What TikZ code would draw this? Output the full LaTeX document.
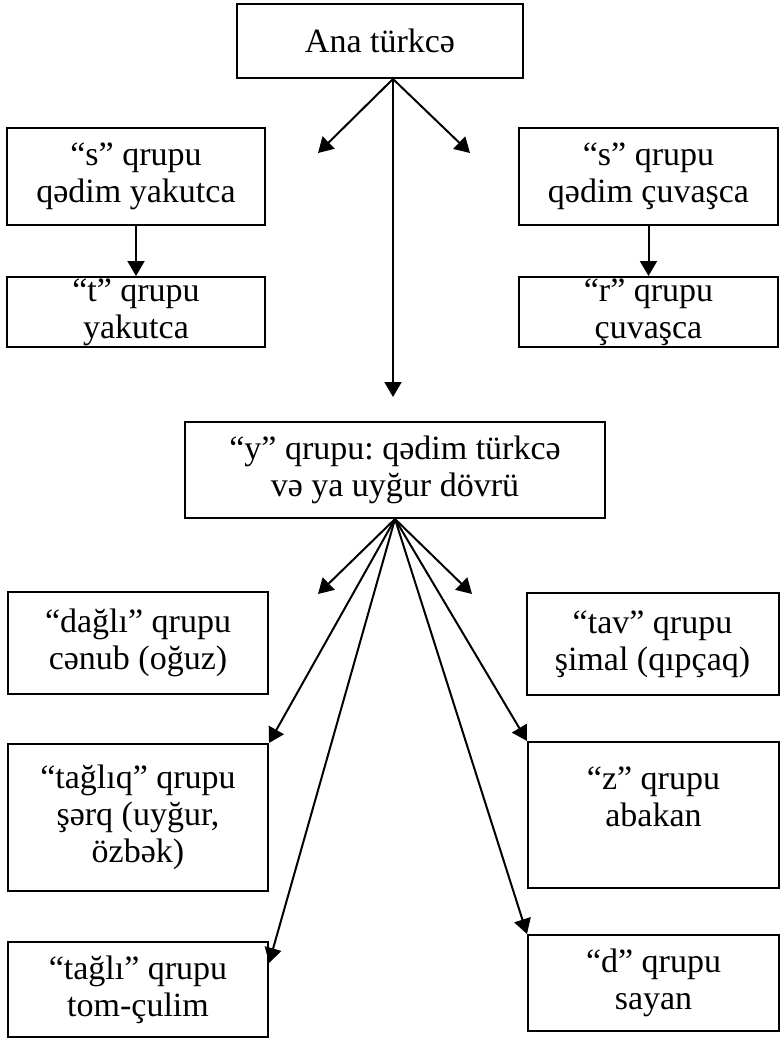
\documentclass[tikz,border=0pt]{standalone}
\usepackage{fontspec}
\setmainfont{Liberation Serif}
\frenchspacing
\usetikzlibrary{positioning,arrows.meta,calc}
\tikzset{
  grp/.style={ % image of one group box
    draw, rectangle, line width=1pt,
    align=center, inner sep=0pt, text=black,
    font=\fontsize{17}{18.5}\selectfont
  },
  arr/.style={ % arrow from a fork point
    line width=1pt, -{Triangle[length=7.5pt,width=8.5pt]}
  }
}
\begin{document}
\begin{tikzpicture}[x=0.5pt, y=-0.5pt]
    \useasboundingbox (0,0) rectangle (783,1040);

      \node[grp, minimum width=143pt, minimum height=37pt] (ana) at (380,41) {Ana türkcə};
      \node[grp, minimum width=129pt, minimum height=48.5pt] (sy) at (136,176.5) {“s” qrupu\\qədim yakutca};
      \node[grp, minimum width=129pt, minimum height=35pt] (ty) [below=25pt of sy] {“t” qrupu\\yakutca};
      \node[grp, minimum width=129.5pt, minimum height=48.5pt] (sc) at (648.5,176.5) {“s” qrupu\\qədim çuvaşca};
      \node[grp, minimum width=129.5pt, minimum height=35pt] (rc) [below=25pt of sc] {“r” qrupu\\çuvaşca};
      \node[grp, minimum width=210pt, minimum height=48pt] (yq) at (395,470) {“y” qrupu: qədim türkcə\\və ya uyğur dövrü};

      \node[grp, minimum width=130pt, minimum height=51pt] (dagli) at (138,643) {“dağlı” qrupu\\cənub (oğuz)};
      \node[grp, minimum width=130pt, minimum height=73.5pt] (tagliq) [below=24pt of dagli] {“tağlıq” qrupu\\şərq (uyğur,\\özbək)};
      \node[grp, minimum width=130pt, minimum height=47.5pt] (tagli) [below=24.5pt of tagliq] {“tağlı” qrupu\\tom-çulim};
      \node[grp, minimum width=126pt, minimum height=51pt] (tav) at (652.5,644) {“tav” qrupu\\şimal (qıpçaq)};
      \node[grp, minimum width=125.5pt, minimum height=73pt] (z) at (653.5,815) {“z” qrupu\\abakan\\~};
      \node[grp, minimum width=125.5pt, minimum height=48pt] (d) at (653.5,983) {“d” qrupu\\sayan};

      % fork under Ana türkcə
      \coordinate (f1) at (393,79);
      \coordinate (l1) at (318,153);
      \coordinate (r1) at (470,153);
      \coordinate (m1) at (393,397);
      \draw[arr] (f1) -- (l1);
      \draw[arr] (f1) -- (r1);
      \draw[arr] (f1) -- (m1);
      \draw[arr] (sy) -- (ty);
      \draw[arr] (sc) -- (rc);

      % fork under the "y" group
      \coordinate (l2) at (318,594);
      \coordinate (r2) at (472,594);
      \draw[arr] (yq.south) -- (l2);
      \draw[arr] (yq.south) -- (r2);
      \draw[arr] (yq.south) -- (tagliq.north east);
      \draw[arr] (yq.south) -- ($(tagli.north east)+(0,22)$);
      \draw[arr] (yq.south) -- (z.north west);
      \draw[arr] (yq.south) -- (d.north west);
    \end{tikzpicture}
\end{document}
